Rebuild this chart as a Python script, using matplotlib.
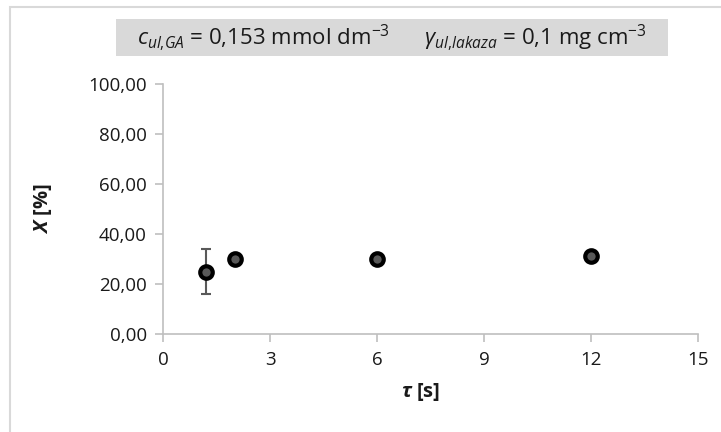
import matplotlib.pyplot as plt
from matplotlib.patches import Rectangle
from matplotlib.ticker import FuncFormatter

plt.rcParams['font.family'] = ['Open Sans', 'DejaVu Sans']
plt.rcParams['mathtext.fontset'] = 'custom'
plt.rcParams['mathtext.rm'] = 'Open Sans'
plt.rcParams['mathtext.it'] = 'Open Sans:italic'
plt.rcParams['mathtext.bf'] = 'Open Sans:bold'
plt.rcParams['mathtext.bfit'] = 'Open Sans:bold:italic'

# data
tau = [1.2, 2, 6, 12]
conv = [24.8, 30.0, 30.0, 31.2]
conv_err = [9.0, 1.0, 1.2, 0.8]

x_ticks = [0, 3, 6, 9, 12, 15]
y_ticks = [0, 20, 40, 60, 80, 100]

txt = '#1a1a1a'

fig = plt.figure(figsize=(7.21, 4.32), dpi=100)
ax = fig.add_axes([0.2265, 0.2269, 0.9677 - 0.2265, 0.8056 - 0.2269])

# outer chart frame
fig.patches.append(Rectangle((10 / 721, -0.05), 1.2, 1 - 7 / 432 + 0.05,
                             transform=fig.transFigure, fill=False,
                             edgecolor='#d9d9d9', linewidth=1.5))

ax.errorbar(tau, conv, yerr=conv_err, fmt='none', ecolor='#595959',
            elinewidth=1.5, capsize=3.5, capthick=1.5, zorder=2)
ax.plot(tau, conv, 'o', markersize=9, markerfacecolor='#595959',
        markeredgecolor='black', markeredgewidth=3, zorder=3)

ax.set_xlim(0, 15)
ax.set_ylim(0, 100)
ax.set_xticks(x_ticks)
ax.set_yticks(y_ticks)
ax.yaxis.set_major_formatter(FuncFormatter(lambda v, p: f'{v:.2f}'.replace('.', ',')))

for side in ['top', 'right']:
    ax.spines[side].set_visible(False)
for side in ['left', 'bottom']:
    ax.spines[side].set_color('#bfbfbf')
    ax.spines[side].set_linewidth(1.2)
ax.tick_params(axis='both', colors='#bfbfbf', length=6, width=1.2,
               labelsize=13.5, labelcolor=txt, pad=6)

ax.set_xlabel(r'$\mathbfit{\tau}$ [s]', fontsize=14.5, fontweight='bold', color=txt)
ax.set_ylabel(r'$\mathbfit{X}$ [%]', fontsize=14.5, fontweight='bold', color=txt)
ax.xaxis.set_label_coords(0.482, -0.19)
ax.yaxis.set_label_coords(-0.205, 0.5)

# title box
fig.patches.append(Rectangle((116 / 721, 1 - 56 / 432), (668 - 116) / 721, (56 - 19) / 432,
                             transform=fig.transFigure, facecolor='#d9d9d9',
                             edgecolor='none'))
fig.text(392 / 721, 1 - 38 / 432,
         r'$c_{ul{,}GA}$ = 0,153 mmol dm$^{-3}$      $\gamma_{ul{,}lakaza}$ = 0,1 mg cm$^{-3}$',
         ha='center', va='center', fontsize=16, color=txt)

fig.savefig('out.png', dpi=100)
